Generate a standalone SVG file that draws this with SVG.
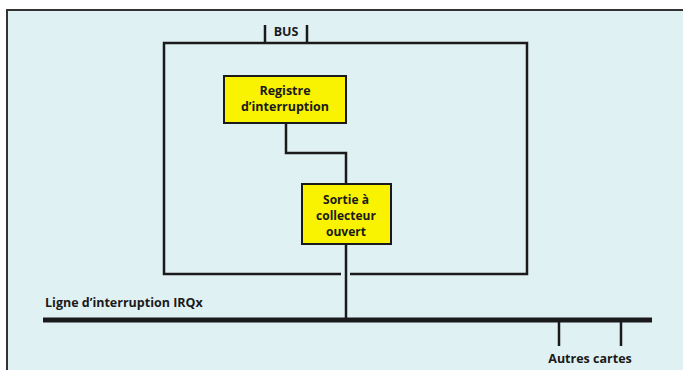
<svg xmlns="http://www.w3.org/2000/svg" width="683" height="370" viewBox="0 0 683 370">
<style>
.t{font-family:"Open Sans","Liberation Sans",sans-serif;font-weight:bold;font-size:12.5px;fill:#1a1a1a}
.b{font-size:12px}
.box{fill:#f9f200;stroke:#1a1a1a;stroke-width:2}
.ln{fill:none;stroke:#1a1a1a;stroke-width:2.5}
</style>
<rect x="0" y="0" width="683" height="370" fill="#ffffff"/>
<rect x="7" y="10" width="676" height="360" fill="#e0f1f4"/>
<path d="M7 370 V10 H683" fill="none" stroke="#333" stroke-width="2"/>
<g id="card">
<path class="ln" d="M341 274 H164 V43 H527 V274 H350"/>
</g>
<g id="bus">
<path class="ln" d="M265 25 V43 M307 25 V43"/>
<text class="t" x="286" y="36" text-anchor="middle">BUS</text>
</g>
<g id="connectors">
<path class="ln" d="M286 123 V153 H346 V184"/>
<path class="ln" d="M346 244 V320"/>
<path d="M43 320 H652" stroke="#1a1a1a" stroke-width="5"/>
<path class="ln" d="M559 320 V346 M621 320 V346"/>
</g>
<g id="registre">
<rect class="box" x="224" y="76" width="122" height="47"/>
<text class="t" x="285" y="95" text-anchor="middle">Registre</text>
<text class="t" x="285" y="111" text-anchor="middle">d’interruption</text>
</g>
<g id="sortie">
<rect class="box" x="302" y="184" width="89" height="60"/>
<text class="t b" x="346" y="204" text-anchor="middle">Sortie à</text>
<text class="t b" x="346" y="220" text-anchor="middle">collecteur</text>
<text class="t b" x="346" y="236" text-anchor="middle">ouvert</text>
</g>
<g id="ligne">
<text class="t" x="45" y="307">Ligne d’interruption IRQx</text>
</g>
<g id="autres">
<text class="t" x="590" y="363" text-anchor="middle">Autres cartes</text>
</g>
</svg>
